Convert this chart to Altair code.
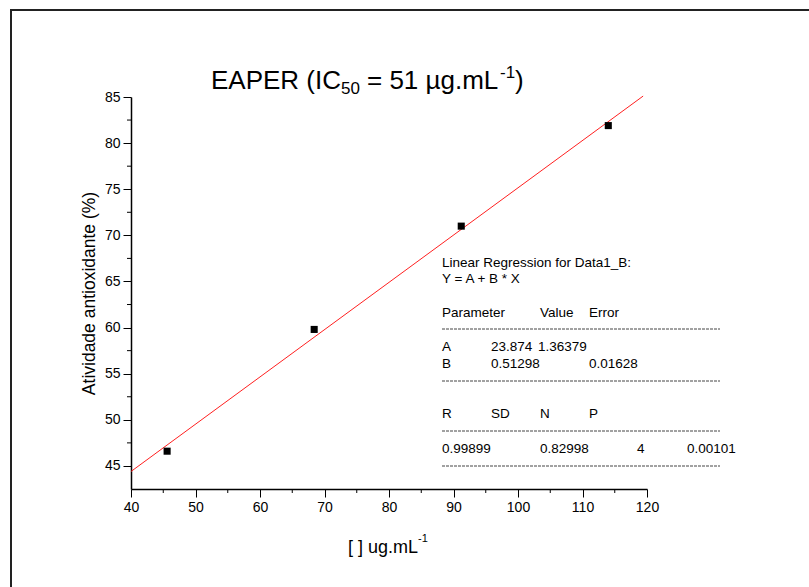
import altair as alt
import pandas as pd

# ---- data ----
conc = [45.6, 68.4, 91.2, 114.0]
activity = [46.6, 59.8, 71.0, 81.9]
fit_x = [40.0, 119.4]
fit_y = [44.4, 85.1]

x_major = [40, 50, 60, 70, 80, 90, 100, 110, 120]
x_minor = [45, 55, 65, 75, 85, 95, 105, 115]
y_major = [45, 50, 55, 60, 65, 70, 75, 80, 85]
y_minor = [47.5, 52.5, 57.5, 62.5, 67.5, 72.5, 77.5, 82.5]

reg_header = ["Linear Regression for Data1_B:", "Y = A + B * X"]
param_head = ["Parameter", "Value", "Error"]
param_a = ["A", "23.874", "1.36379"]
param_b = ["B", "0.51298", "0.01628"]
stat_head = ["R", "SD", "N", "P"]
stat_vals = ["0.99899", "0.82998", "4", "0.00101"]

FONT = "Liberation Sans"
W, H = 516, 392

pts = pd.DataFrame({"x": conc, "y": activity})
fit = pd.DataFrame({"x": fit_x, "y": fit_y})

xscale = alt.Scale(domain=[40, 120], nice=False, zero=False)
yscale = alt.Scale(domain=[42.5, 85], nice=False, zero=False)

line = alt.Chart(fit).mark_line(color="#ff2020", strokeWidth=1, clip=False).encode(
    x=alt.X("x:Q", scale=xscale,
            axis=alt.Axis(values=x_major, title=None, tickSize=8, tickColor="black",
                          domainColor="black", domainWidth=1.5, labelFontSize=14,
                          labelColor="black", labelFont=FONT, labelPadding=3,
                          grid=False, labelFlush=False)),
    y=alt.Y("y:Q", scale=yscale,
            axis=alt.Axis(values=y_major, title="Atividade antioxidante (%)",
                          tickSize=8, tickColor="black", domainColor="black",
                          domainWidth=1.5, labelFontSize=14, labelColor="black",
                          labelFont=FONT, labelPadding=3, grid=False,
                          titleFont=FONT, titleFontSize=17.5, titleFontWeight="normal",
                          titleColor="black", titlePadding=6, labelFlush=False)),
)

points = alt.Chart(pts).mark_square(color="black", size=50, opacity=1).encode(
    x=alt.X("x:Q", scale=xscale), y=alt.Y("y:Q", scale=yscale)
)

xminor = alt.Chart(pd.DataFrame({"x": x_minor})).mark_rule(color="black", strokeWidth=1).encode(
    x=alt.X("x:Q", scale=xscale), y=alt.value(H), y2=alt.value(H + 4)
)
yminor = alt.Chart(pd.DataFrame({"y": y_minor})).mark_rule(color="black", strokeWidth=1).encode(
    y=alt.Y("y:Q", scale=yscale), x=alt.value(0), x2=alt.value(-4)
)

layers = [line, xminor, yminor, points]


def txt(s, px, py, size, **kw):
    return alt.Chart(pd.DataFrame({"t": [s]})).mark_text(
        font=FONT, fontSize=size, align="left", baseline="alphabetic",
        color=kw.pop("color", "black"), **kw
    ).encode(x=alt.value(px), y=alt.value(py), text="t:N")


def dash(py):
    return alt.Chart(pd.DataFrame({"a": [0]})).mark_rule(
        color="#444444", strokeWidth=1, strokeDash=[3, 1]
    ).encode(x=alt.value(311), x2=alt.value(589), y=alt.value(py))


# ---- title with sub/superscripts ----
layers += [
    txt("EAPER (IC", 80, -8, 26),
    txt("50", 210, -3, 17),
    txt("= 51 µg.mL", 236, -8, 26),
    txt("-1", 369, -19, 17),
    txt(")", 384, -8, 26),
]

# ---- x axis title ----
layers += [
    txt("[ ] ug.mL", 217, 456, 18),
    txt("-1", 287, 445, 11),
]

# ---- regression report ----
FS = 13.5
cols = {"c0": 311, "c1": 360, "c2": 409, "c3": 458, "c1b": 407, "c4": 506, "c5": 556}
layers += [
    txt(reg_header[0], cols["c0"], 170, FS),
    txt(reg_header[1], cols["c0"], 186, FS),
    txt(param_head[0], cols["c0"], 220, FS),
    txt(param_head[1], cols["c2"], 220, FS),
    txt(param_head[2], cols["c3"], 220, FS),
    dash(232),
    txt(param_a[0], cols["c0"], 254, FS),
    txt(param_a[1], cols["c1"], 254, FS),
    txt(param_a[2], cols["c1b"], 254, FS),
    txt(param_b[0], cols["c0"], 271, FS),
    txt(param_b[1], cols["c1"], 271, FS),
    txt(param_b[2], cols["c3"], 271, FS),
    dash(284),
    txt(stat_head[0], cols["c0"], 321, FS),
    txt(stat_head[1], cols["c1"], 321, FS),
    txt(stat_head[2], cols["c2"], 321, FS),
    txt(stat_head[3], cols["c3"], 321, FS),
    dash(334),
    txt(stat_vals[0], cols["c0"], 356, FS),
    txt(stat_vals[1], cols["c2"], 356, FS),
    txt(stat_vals[2], cols["c4"], 356, FS),
    txt(stat_vals[3], cols["c5"], 356, FS),
    dash(369),
]

# ---- outer frame (image border) ----
frame = alt.Chart(pd.DataFrame({"a": [0]})).mark_rect(
    fill="white", fillOpacity=0, stroke="#222222", strokeWidth=2
).encode(x=alt.value(-120), x2=alt.value(W + 200), y=alt.value(-87), y2=alt.value(H + 200))
layers.append(frame)

chart = alt.layer(*layers).properties(
    width=W, height=H,
    autosize=alt.AutoSizeParams(type="none"),
    padding={"left": 131, "top": 97, "right": 162, "bottom": 98},
    background="white",
).configure_view(stroke=None)

chart.save("out.html", embed_options={"renderer": "svg", "actions": False})
